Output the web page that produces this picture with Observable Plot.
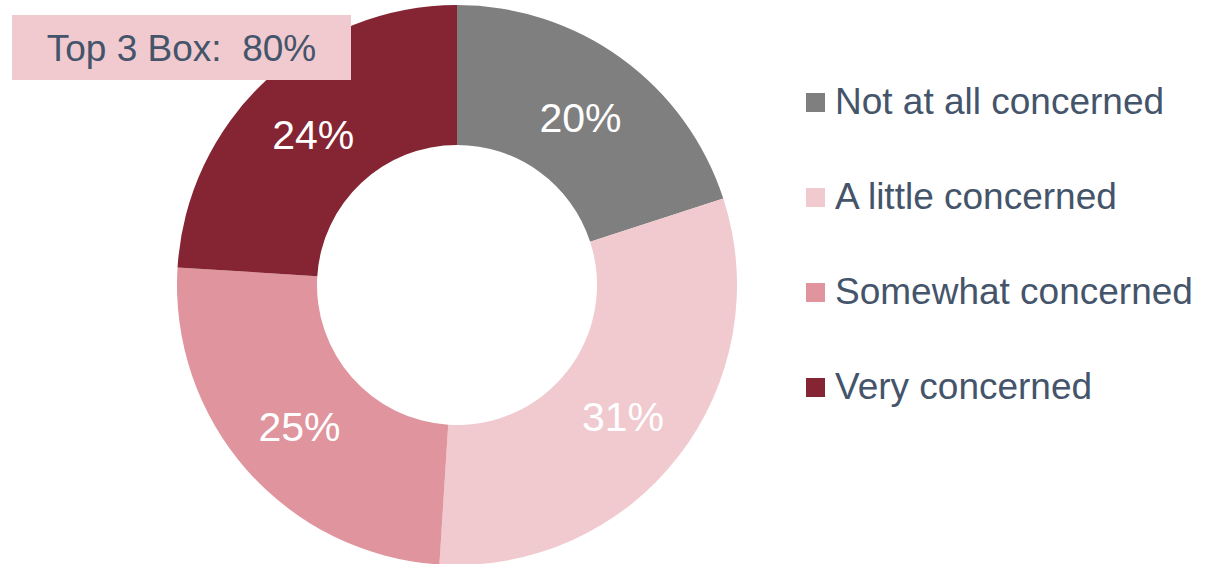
<!DOCTYPE html>
<html>
<head>
<meta charset="utf-8">
<script src="https://cdn.jsdelivr.net/npm/d3@7"></script>
<script src="https://cdn.jsdelivr.net/npm/@observablehq/plot@0.6"></script>
<style>
  html, body { margin: 0; padding: 0; background: #fff; }
  #wrap { position: relative; width: 1210px; height: 564px; font-family: "Liberation Sans", Arial, sans-serif; overflow: hidden; }
  #chart { position: absolute; left: 0; top: 0; }
  #badge { position: absolute; left: 12px; top: 15px; width: 339px; height: 65px; background: #F0CACF; color: #44546A; font-size: 37px; line-height: 67px; text-align: center; white-space: pre; }
  #legend { position: absolute; left: 806px; top: 0; color: #44546A; font-size: 37px; }
  .row { position: absolute; left: 0; display: flex; align-items: center; white-space: nowrap; height: 40px; }
  .sw { width: 19px; height: 19px; margin-right: 10px; flex: none; }
</style>
</head>
<body>
<div id="wrap">
  <div id="chart"></div>
  <div id="badge"></div>
  <div id="legend"></div>
</div>
<script>
const categories = ["Not at all concerned", "A little concerned", "Somewhat concerned", "Very concerned"];
const values = [20, 31, 25, 24];
const colors = ["#7F7F7F", "#F0CACF", "#E0959E", "#852432"];
const labels = ["20%", "31%", "25%", "24%"];
const topBoxLabel = "Top 3 Box:  80%";
const legendRowsY = [102, 197, 292, 387];

let acc = 0;
const data = categories.map((c, i) => {
  const d = {category: c, value: values[i], label: labels[i], start: acc, end: acc + values[i]};
  acc += values[i];
  return d;
});
data.forEach(d => d.mid = (d.start + d.end) / 2);

const W = 914, H = 564, mTop = 6;
const outerR = 280, innerR = 140;

function center(dim) {
  return [(dim.marginLeft + dim.width - dim.marginRight) / 2, (dim.marginTop + dim.height - dim.marginBottom) / 2];
}

const arcMark = Plot.barX(data, {
  x1: "start", x2: "end", fill: "category",
  render(index, scales, vals, dim, context) {
    const [cx, cy] = center(dim);
    const arc = d3.arc().innerRadius(innerR).outerRadius(outerR);
    const g = d3.create("svg:g").attr("transform", `translate(${cx},${cy})`);
    for (const i of index) {
      g.append("path")
        .attr("d", arc({startAngle: vals.x1[i], endAngle: vals.x2[i]}))
        .attr("fill", vals.fill[i]);
    }
    return g.node();
  }
});

const labelMark = Plot.text(data, {
  x: "mid", text: "label",
  render(index, scales, vals, dim, context) {
    const [cx, cy] = center(dim);
    const r = (innerR + outerR) / 2;
    const g = d3.create("svg:g");
    for (const i of index) {
      const a = vals.x[i];
      g.append("text")
        .attr("x", cx + r * Math.sin(a))
        .attr("y", cy - r * Math.cos(a) + 3)
        .attr("text-anchor", "middle")
        .attr("dominant-baseline", "central")
        .attr("fill", "#fff")
        .attr("font-size", 41)
        .attr("font-family", "Liberation Sans, Arial, sans-serif")
        .text(vals.text[i]);
    }
    return g.node();
  }
});

const plot = Plot.plot({
  width: W, height: H,
  marginTop: mTop, marginBottom: 0, marginLeft: 0, marginRight: 0,
  x: {domain: [0, 100], range: [0, 2 * Math.PI], axis: null},
  y: {axis: null},
  color: {domain: categories, range: colors},
  marks: [arcMark, labelMark]
});
document.getElementById("chart").appendChild(plot);

document.getElementById("badge").textContent = topBoxLabel;

const legend = document.getElementById("legend");
categories.forEach((c, i) => {
  const row = document.createElement("div");
  row.className = "row";
  row.style.top = (legendRowsY[i] - 20) + "px";
  const sw = document.createElement("div");
  sw.className = "sw";
  sw.style.background = colors[i];
  const t = document.createElement("span");
  t.textContent = c;
  row.appendChild(sw);
  row.appendChild(t);
  legend.appendChild(row);
});
</script>
</body>
</html>
